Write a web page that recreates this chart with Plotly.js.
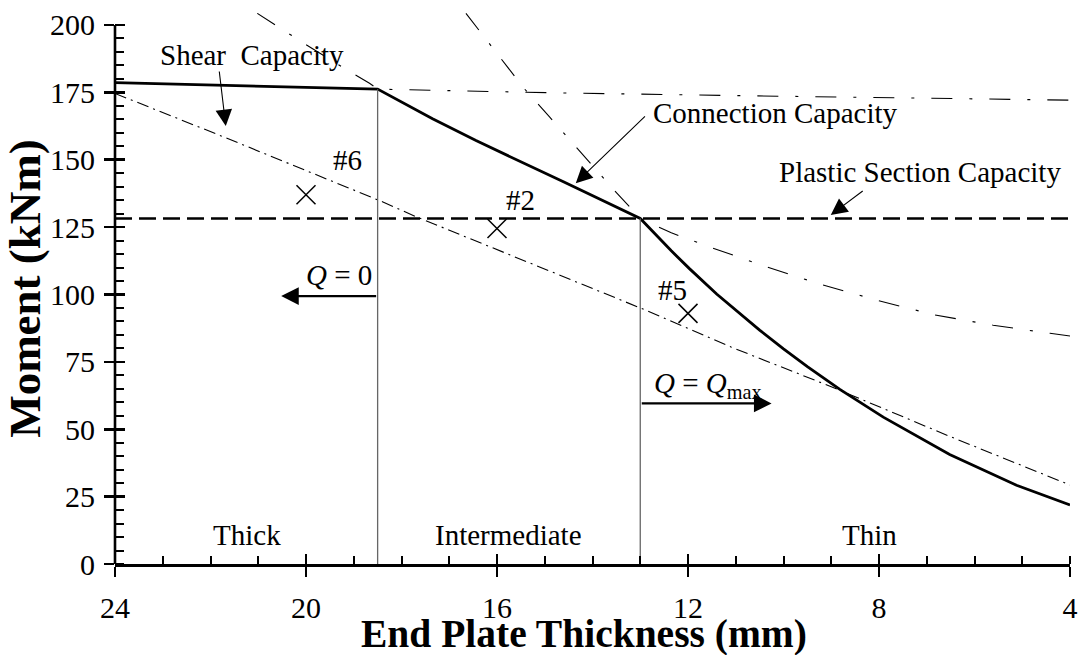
<!DOCTYPE html>
<html>
<head>
<meta charset="utf-8">
<script src="https://cdn.plot.ly/plotly-3.0.1.min.js"></script>
<style>
html,body{margin:0;padding:0;background:#fff;}
#chart{width:1080px;height:655px;}
</style>
</head>
<body>
<div id="chart"></div>
<script>
// ---------- data (end plate thickness in mm, moment in kNm) ----------
const xTickVals = [24, 20, 16, 12, 8, 4];
const yTickVals = [0, 25, 50, 75, 100, 125, 150, 175, 200];

// governing connection capacity (solid)
const connT = [24, 18.5, 17.35, 16.44, 14.62, 13, 12.35, 11.97, 11.4, 10.5, 10.0, 9.5, 8.82, 7.91, 6.52, 5.12, 4];
const connM = [178.6, 176.2, 165.2, 157.1, 141.9, 128.2, 116.2, 109.6, 100.2, 86.8, 79.8, 73.2, 64.8, 54.5, 40.6, 29.2, 21.9];

// shear capacity (dash-dot)
const shearT = [24, 21.7, 18.4, 17.7, 12.9, 11.1, 9.0, 6.5, 4];
const shearM = [174.6, 158.3, 134.4, 128.9, 94.3, 80.5, 65.8, 47.2, 29.3];

// thick-plate mode curve (long dash-dot)
const thickT = [21.02, 20.08, 19.03, 18.67, 18.5, 14.7, 11.0, 4.5, 4];
const thickM = [204.3, 193.6, 182.1, 178.4, 176.2, 174.8, 173.8, 172.4, 172.1];

// intermediate / thin mode curve (long dash-dot)
const interT = [16.65, 16.19, 15.74, 15.43, 14.9, 13.54, 13.0, 12.35, 11.62, 10.46, 9.28, 8.05, 6.83, 5.61, 4.42, 4];
const interM = [204.3, 193.7, 183.2, 176.4, 165.9, 138.6, 128.2, 122.9, 118.1, 110.9, 104.1, 97.9, 92.4, 88.6, 85.6, 84.6];

// plastic section capacity
const plasticT = [24, 4];
const plasticM = [128.2, 128.2];

// region boundaries
const boundT = [18.5, 13];
const boundTop = [176.2, 128.2];

// tests
const testT = [20, 16, 12];
const testM = [137, 124.5, 93];
const testLabels = ['#6', '#2', '#5'];

// region labels
const regionLabels = ['Thick', 'Intermediate', 'Thin'];
const regionT = [21.24, 15.75, 8.2];

// ---------- build ----------
const FONT = 'Liberation Serif, Times New Roman, serif';
const thin = 1.1;

const traces = [
  {x: plasticT, y: plasticM, mode: 'lines', line: {color: '#000', width: 2.6, dash: '17px,7px'}, hoverinfo: 'skip'},
  {x: shearT, y: shearM, mode: 'lines', line: {color: '#000', width: thin, dash: '12px,5px,2px,5px'}, hoverinfo: 'skip'},
  {x: thickT, y: thickM, mode: 'lines', line: {color: '#000', width: thin, dash: '21px,17px,3px,17px'}, hoverinfo: 'skip'},
  {x: interT, y: interM, mode: 'lines', line: {color: '#000', width: thin, dash: '21px,17px,3px,17px'}, hoverinfo: 'skip'},
  {x: connT, y: connM, mode: 'lines', line: {color: '#000', width: 2.8}, hoverinfo: 'skip'},
  {x: testT, y: testM, mode: 'markers', marker: {symbol: 'x-thin-open', size: 19, color: '#000', line: {color: '#000', width: 1.5}}, hoverinfo: 'skip'},
  {x: [], y: [], xaxis: 'x2', yaxis: 'y2', mode: 'lines', hoverinfo: 'skip'}
];
boundT.forEach((t, i) => {
  traces.push({x: [t, t], y: [0, boundTop[i]], mode: 'lines', line: {color: '#666', width: 1.3}, hoverinfo: 'skip'});
});

const txt = (text, x, y, extra) => Object.assign({
  x: x, y: y, xref: 'x', yref: 'y', text: text, showarrow: false,
  font: {family: FONT, size: 29, color: '#000'}
}, extra || {});

const arrow = (x, y, ax, ay, w, size) => ({
  x: x, y: y, ax: ax, ay: ay, xref: 'x', yref: 'y', axref: 'x', ayref: 'y',
  text: '', showarrow: true, arrowhead: 2, arrowsize: size, arrowwidth: w, arrowcolor: '#000'
});

const annotations = [
  txt('Shear\u00a0 Capacity', 21.13, 188.9),
  txt('Connection Capacity', 10.16, 167.3),
  txt('Plastic Section Capacity', 7.14, 145.6),
  txt('<i>Q</i> = 0', 19.3, 107.2),
  txt('<i>Q</i> = <i>Q</i><sub>max</sub>', 11.58, 66.5),
  arrow(21.68, 162.5, 21.82, 183.3, 1.1, 3),
  arrow(14.35, 141.3, 12.87, 166.6, 1.1, 3),
  arrow(9.01, 129.5, 8.31, 138.8, 1.1, 3),
  arrow(20.52, 99.4, 18.5, 99.4, 2.2, 1.6),
  arrow(10.25, 59.6, 13.0, 59.6, 2.2, 1.6),
  // x-axis title
  {xref: 'paper', yref: 'paper', x: 0.4906, y: -0.127, xanchor: 'center', yanchor: 'middle',
   text: '<b>End Plate Thickness (mm)</b>', showarrow: false,
   font: {family: FONT, size: 39.5, color: '#000'}}
];
const labelShift = [[41, 35], [23, 28], [-16, 23]];
testT.forEach((t, i) => {
  annotations.push(txt(testLabels[i], t, testM[i], {xshift: labelShift[i][0], yshift: labelShift[i][1]}));
});
regionLabels.forEach((r, i) => {
  annotations.push(txt(r, regionT[i], 10.8));
});

const layout = {
  width: 1080, height: 655,
  margin: {l: 115, r: 10, t: 13, b: 91},
  paper_bgcolor: '#fff', plot_bgcolor: '#fff',
  showlegend: false,
  font: {family: FONT, color: '#000'},
  xaxis: {
    range: [24, 4], autorange: false,
    tickmode: 'array', tickvals: xTickVals, ticktext: xTickVals.map(String),
    ticks: 'outside', ticklen: 10, tickwidth: 2.5, tickcolor: '#000',
    showline: true, linewidth: 2.6, linecolor: '#000',
    showgrid: false, zeroline: false,
    tickfont: {family: FONT, size: 30, color: '#000'},
    ticklabelstandoff: 5,
    minor: {tickmode: 'linear', tick0: 0, dtick: 1, ticks: 'inside', ticklen: 8, tickwidth: 2, tickcolor: '#000', showgrid: false}
  },
  yaxis: {
    range: [0, 204.45], autorange: false,
    tickmode: 'array', tickvals: yTickVals, ticktext: yTickVals.map(String),
    ticks: 'outside', ticklen: 10, tickwidth: 2.5, tickcolor: '#000',
    showline: false, showgrid: false, zeroline: false,
    tickfont: {family: FONT, size: 30, color: '#000'},
    ticklabelstandoff: 3,
    minor: {tickmode: 'linear', tick0: 0, dtick: 5, ticks: 'inside', ticklen: 9, tickwidth: 2, tickcolor: '#000', showgrid: false},
    title: {text: 'Moment (kNm)', font: {family: FONT, size: 45, color: '#000', weight: 'bold'}, standoff: 0}
  },
  xaxis2: {
    overlaying: 'x', anchor: 'y', side: 'bottom', range: [24, 4], autorange: false,
    tickmode: 'array', tickvals: xTickVals, ticks: 'inside', ticklen: 10, tickwidth: 2.5, tickcolor: '#000',
    showticklabels: false, showgrid: false, zeroline: false, showline: false
  },
  yaxis2: {
    overlaying: 'y', anchor: 'x', side: 'left', range: [0, 204.45], autorange: false,
    tickmode: 'array', tickvals: yTickVals, ticks: 'inside', ticklen: 10, tickwidth: 2.5, tickcolor: '#000',
    showticklabels: false, showgrid: false, zeroline: false, showline: false
  },
  shapes: [
    {type: 'line', xref: 'paper', yref: 'y', x0: 0, x1: 0, y0: 0, y1: 200, line: {color: '#000', width: 2.6}}
  ],
  annotations: annotations
};

Plotly.newPlot('chart', traces, layout, {staticPlot: true, displayModeBar: false});
</script>
</body>
</html>
